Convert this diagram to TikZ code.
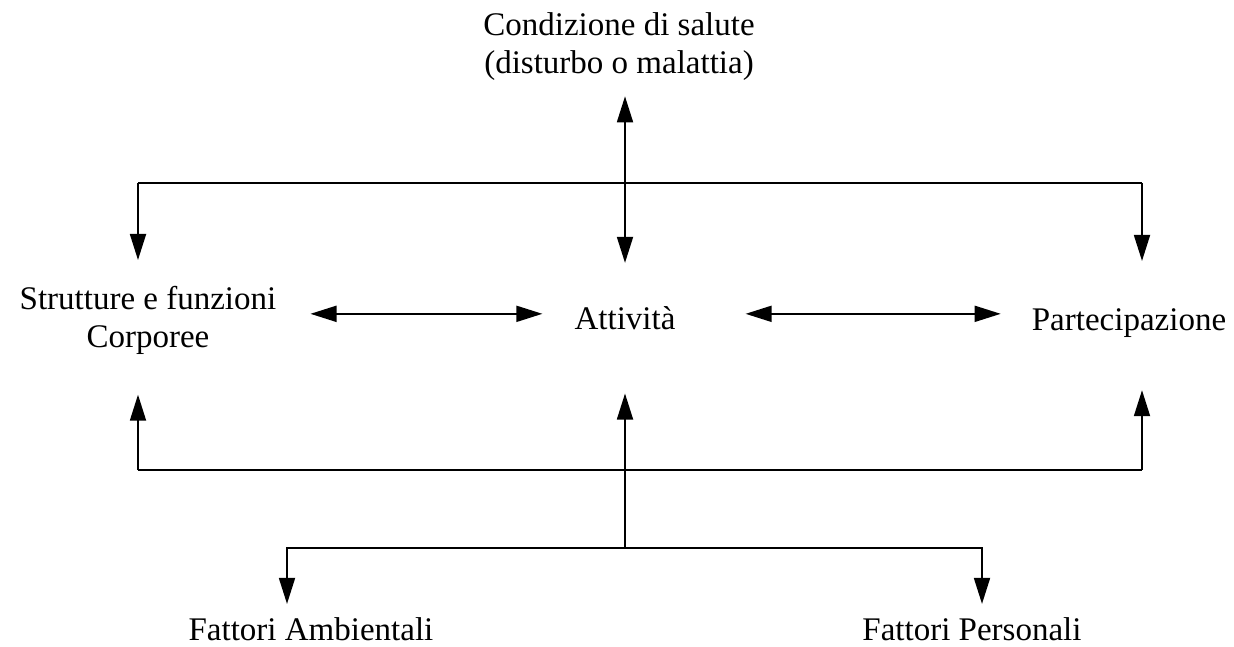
\documentclass[tikz,border=0pt]{standalone}
\usepackage{fontspec}
\setmainfont{Liberation Serif}
\usetikzlibrary{arrows.meta}
\tikzset{
  lbl/.style={inner sep=0pt, font=\fontsize{33}{38}\selectfont, align=center},
  conn/.style={line width=1.8pt},
  arr/.style={conn,-{Triangle[length=26pt,width=16pt]}},
  dbl/.style={conn,{Triangle[length=26pt,width=16pt]}-{Triangle[length=26pt,width=16pt]}}
}
\begin{document}
\begin{tikzpicture}[x=1pt,y=-1pt]
\useasboundingbox[fill=white] (0,0) rectangle (1234,647);
\node[lbl,anchor=north] (salute) at (619,12) {Condizione di salute\\(disturbo o malattia)};
\node[lbl,anchor=north] (strutture) at (148,286) {Strutture e funzioni\\Corporee};
\node[lbl,anchor=base] (attivita) at (625,329) {Attività};
\node[lbl,anchor=base] (partecipazione) at (1129,330) {Partecipazione};
\node[lbl,anchor=base] (ambientali) at (311,640) {Fattori Ambientali};
\node[lbl,anchor=base] (personali) at (972,640) {Fattori Personali};
\coordinate (tl) at (138,183);
\coordinate (tr) at (1142,183);
\coordinate (bl) at (138,470);
\coordinate (br) at (1142,470);
\coordinate (bc) at (625,548);
\draw[dbl,shorten <=16pt,shorten >=43pt] (attivita |- salute.south) -- (attivita.north);
\draw[conn] (tl) -- (tr);
\draw[arr,shorten >=26pt] (tl) -- (tl |- strutture.north);
\draw[arr,shorten >=47pt] (tr) -- (tr |- partecipazione.north);
\draw[dbl,shorten <=34pt,shorten >=32pt] ([yshift=6.5pt]strutture.east) -- ([yshift=6.5pt]strutture.east -| attivita.west);
\draw[dbl,shorten <=70pt,shorten >=31pt] ([yshift=6.5pt]strutture.east -| attivita.east) -- ([yshift=6.5pt]strutture.east -| partecipazione.west);
\draw[conn] (bl) -- (br);
\draw[arr,shorten >=40pt] (bl) -- (bl |- strutture.south);
\draw[arr,shorten >=53pt] (br) -- (br |- partecipazione.south);
\draw[arr,shorten >=64pt] (bc) -- (attivita.south);
\draw[arr,shorten >=13pt] (bc) -| ([xshift=-24pt]ambientali.north);
\draw[arr,shorten >=13pt] (bc) -| ([xshift=10pt]personali.north);
\end{tikzpicture}
\end{document}
